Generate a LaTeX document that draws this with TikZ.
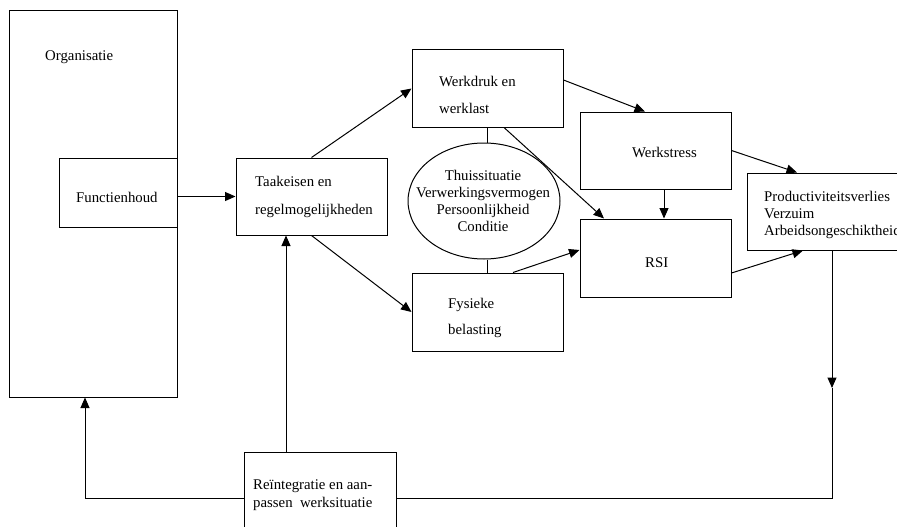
\documentclass[tikz,border=0pt]{standalone}
\usepackage{fontspec}
\setmainfont{Liberation Serif}
\usetikzlibrary{arrows.meta,shapes.geometric}
\begin{document}
\begin{tikzpicture}[x=1pt,y=-1pt,
  box/.style={draw,rectangle,line width=1pt,inner sep=0pt},
  oval/.style={draw,ellipse,line width=1pt,inner sep=0pt},
  lbl/.style={anchor=base west,inner sep=0pt,font=\fontsize{14.8}{17}\selectfont},
  clbl/.style={anchor=base,inner sep=0pt,font=\fontsize{14.8}{17}\selectfont},
  conn/.style={line width=1pt},
  arr/.style={line width=1pt,-{Triangle[length=10.5pt,width=9pt]}}]
\useasboundingbox (0,0) rectangle (897,527);

% boxes
\node[box,minimum width=168pt,minimum height=386pt] (org) at (93,204) {};
\node[box,minimum width=118pt,minimum height=69pt] (func) at (118,192.5) {};
\node[box,minimum width=151pt,minimum height=77pt] (taak) at (311.5,196.5) {};
\node[box,minimum width=151pt,minimum height=77pt] (werkdruk) at (487.5,88.5) {};
\node[box,minimum width=151pt,minimum height=77pt] (werkstress) at (655.5,150.5) {};
\node[box,minimum width=151pt,minimum height=78pt] (rsi) at (655.5,258) {};
\node[box,minimum width=151pt,minimum height=78pt] (fys) at (487.5,312) {};
\node[box,minimum width=152pt,minimum height=77pt] (prod) at (823,211.5) {};
\node[box,minimum width=152pt,minimum height=78pt] (reint) at (320,491) {};
\node[oval,minimum width=152pt,minimum height=116pt] (ell) at (484,201) {};

% texts
\node[lbl] (t1) at (45,61) {Organisatie};
\node[lbl] (t2) at (76,202) {Functienhoud};
\node[lbl] (t3) at (255,186) {Taakeisen en};
\node[lbl] (t4) at (255,214) {regelmogelijkheden};
\node[lbl] (t5) at (439,86) {Werkdruk en};
\node[lbl] (t6) at (439,113) {werklast};
\node[lbl] (t7) at (632,157) {Werkstress};
\node[lbl] (t8) at (645,267) {RSI};
\node[lbl] (t9) at (764,201) {Productiviteitsverlies};
\node[lbl] (t10) at (764,218) {Verzuim};
\node[lbl] (t11) at (764,235) {Arbeidsongeschiktheid};
\node[clbl] (t12) at (483,180) {Thuissituatie};
\node[clbl] (t13) at (483,197) {Verwerkingsvermogen};
\node[clbl] (t14) at (483,214) {Persoonlijkheid};
\node[clbl] (t15) at (483,231) {Conditie};
\node[lbl] (t16) at (448,308) {Fysieke};
\node[lbl] (t17) at (448,334) {belasting};
\node[lbl] (t18) at (253,489) {Reïntegratie en aan-};
\node[lbl] (t19) at (253,507) {passen\ \ werksituatie};

% helper coordinates
\coordinate (rb) at (832,498);
\coordinate (rm) at (832,388);
\coordinate (lb) at (85,498);
\coordinate (rv) at (286,452);

% connectors
\draw[arr] (func.east |- taak.west) -- (taak.west);
\draw[arr] (taak.north) -- (werkdruk.west);
\draw[arr] (taak.south) -- (fys.west);
\draw[arr] ([yshift=8.5pt]werkdruk.east) -- ([xshift=-10.5pt]werkstress.north);
\draw[arr] ([xshift=16.5pt]werkdruk.south) -- ([xshift=-51.5pt]rsi.north);
\draw[arr] ([xshift=8.5pt]werkstress.south) -- ([xshift=8.5pt]rsi.north);
\draw[arr] (werkstress.east) -- ([xshift=-26pt]prod.north);
\draw[arr] ([xshift=25.5pt]fys.north) -- ([yshift=8pt]rsi.west);
\draw[arr] ([yshift=-15pt]rsi.east) -- ([xshift=-20pt]prod.south);
\draw[conn] (werkdruk.south) -- (werkdruk.south |- ell.north);
\draw[conn] (fys.north |- ell.south) -- (fys.north);
\draw[arr] (prod.south -| rb) -- (rm);
\draw[conn] (rm) -- (rb) -- (reint.east |- rb);
\draw[arr] (reint.west |- lb) -- (lb) -- (lb |- org.south);
\draw[arr] (rv) -- (rv |- taak.south);
\end{tikzpicture}
\end{document}
